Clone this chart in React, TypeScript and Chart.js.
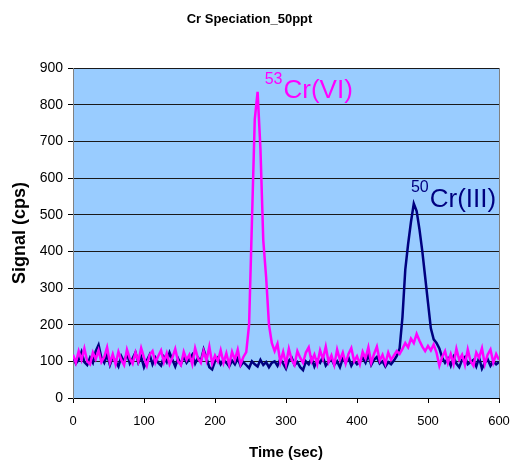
import React, { useEffect, useRef } from "react";
import { Chart, registerables } from "chart.js";

Chart.register(...registerables);

const TITLE = "Cr Speciation_50ppt";
const X_TITLE = "Time (sec)";
const Y_TITLE = "Signal (cps)";
const SAMPLE_STEP_SEC = 4;

// 50Cr(III) signal, one value every 4 s from 0 to 600 s
const CR3_VALUES = [
  112, 94, 104, 126, 98, 90, 110, 96, 128, 145, 110,
  96, 118, 90, 112, 100, 86, 114, 98, 122, 94,
  108, 124, 96, 112, 84, 102, 118, 92, 110, 96,
  88, 112, 98, 124, 104, 86, 108, 92, 114, 96,
  106, 118, 94, 110, 100, 132, 108, 84, 78, 100,
  110, 92, 104, 96, 86, 102, 92, 108, 88, 98,
  90, 82, 100, 92, 86, 104, 90, 98, 84, 96,
  100, 88, 106, 94, 80, 102, 110, 90, 98, 84,
  76, 100, 92, 108, 86, 104, 96, 112, 88, 98,
  106, 90, 100, 84, 108, 96, 110, 88, 102, 92,
  98, 110, 96, 118, 90, 104, 112, 94, 100, 86,
  98, 92, 102, 115, 135, 220, 350, 420, 480, 530,
  510, 460, 400, 330, 260, 190, 160, 150, 135, 110,
  96, 108, 88, 112, 94, 84, 104, 112, 92, 98,
  104, 86, 110, 80, 96, 106, 88, 100, 92, 98,
];

// 53Cr(VI) signal, one value every 4 s from 0 to 600 s
const CR6_VALUES = [
  118, 96, 128, 104, 135, 100, 92, 124, 106, 130, 98,
  112, 138, 96, 120, 92, 126, 104, 90, 132, 108,
  94, 124, 100, 136, 110, 88, 118, 128, 96, 114,
  130, 98, 122, 92, 110, 134, 100, 90, 126, 104,
  118, 92, 136, 108, 96, 128, 102, 140, 94, 116,
  100, 130, 96, 122, 90, 126, 104, 132, 92, 112,
  125, 200, 480, 760, 835, 680, 430, 330, 200, 150,
  128, 148, 98, 126, 92, 134, 104, 90, 128, 110,
  96, 124, 138, 100, 118, 92, 130, 106, 140, 98,
  116, 90, 132, 104, 124, 94, 120, 136, 100, 114,
  92, 126, 108, 138, 96, 120, 140, 102, 118, 94,
  124, 104, 116, 128, 120, 134, 150, 138, 162, 150,
  175, 156, 140, 128, 142, 130, 146, 124, 88, 112,
  128, 96, 120, 92, 134, 104, 118, 90, 132, 100,
  88, 124, 110, 136, 92, 118, 132, 96, 120, 104,
];

const TIMES = CR3_VALUES.map((_, i) => i * SAMPLE_STEP_SEC);

const X_TICKS = [0, 100, 200, 300, 400, 500, 600];
const Y_TICKS = [0, 100, 200, 300, 400, 500, 600, 700, 800, 900];

const PINK = "#FF00FF";
const NAVY = "#000080";

const PEAK_LABELS = [
  { sup: "53", text: "Cr(VI)", x: 270, supY: 857, textY: 818, color: PINK },
  { sup: "50", text: "Cr(III)", x: 476, supY: 562, textY: 521, color: NAVY },
];

const peakLabelPlugin = {
  id: "peakLabels",
  beforeDraw(chart: any) {
    const { ctx, chartArea } = chart;
    ctx.save();
    ctx.fillStyle = "#99CCFF";
    ctx.fillRect(chartArea.left, chartArea.top, chartArea.right - chartArea.left, chartArea.bottom - chartArea.top);
    ctx.restore();
  },
  afterDraw(chart: any) {
    const { ctx, chartArea, scales } = chart;
    ctx.save();
    ctx.strokeStyle = "#808080";
    ctx.lineWidth = 1;
    ctx.beginPath();
    ctx.moveTo(chartArea.right + 0.5, chartArea.top);
    ctx.lineTo(chartArea.right + 0.5, chartArea.bottom);
    ctx.stroke();
    ctx.textBaseline = "alphabetic";
    ctx.textAlign = "left";
    for (const l of PEAK_LABELS) {
      const px = scales.x.getPixelForValue(l.x);
      ctx.fillStyle = l.color;
      ctx.font = "16px Arial, 'Liberation Sans', sans-serif";
      ctx.fillText(l.sup, px, scales.y.getPixelForValue(l.supY));
      const w = ctx.measureText(l.sup).width;
      ctx.font = "26px Arial, 'Liberation Sans', sans-serif";
      ctx.fillText(l.text, px + w + 1, scales.y.getPixelForValue(l.textY));
    }
    ctx.restore();
  },
};

export default function App() {
  const ref = useRef<HTMLCanvasElement | null>(null);
  useEffect(() => {
    if (!ref.current) return;
    const chart = new Chart(ref.current, {
      type: "line",
      data: {
        datasets: [
          {
            label: "53Cr(VI)",
            data: TIMES.map((t, i) => ({ x: t, y: CR6_VALUES[i] })),
            borderColor: PINK,
            borderWidth: 2.5,
            pointRadius: 0,
            tension: 0,
            order: 0,
          },
          {
            label: "50Cr(III)",
            data: TIMES.map((t, i) => ({ x: t, y: CR3_VALUES[i] })),
            borderColor: NAVY,
            borderWidth: 2.5,
            pointRadius: 0,
            tension: 0,
            order: 1,
          },
        ],
      },
      options: {
        animation: false,
        responsive: false,
        devicePixelRatio: 1,
        layout: { padding: { left: 0, right: 15, top: 0, bottom: 0 } },
        plugins: {
          legend: { display: false },
          tooltip: { enabled: false },
          title: {
            display: true,
            text: TITLE,
            color: "#000",
            font: { family: "Arial, 'Liberation Sans', sans-serif", size: 13, weight: "bold", lineHeight: 1.2 },
            padding: { top: 12, bottom: 40.4 },
          },
        },
        scales: {
          x: {
            type: "linear",
            min: 0,
            max: 600,
            afterBuildTicks: (s: any) => {
              s.ticks = X_TICKS.map((v) => ({ value: v }));
            },
            afterFit: (s: any) => {
              s.height = 65;
              s.paddingLeft = 0;
              s.paddingRight = 0;
            },
            ticks: {
              color: "#000",
              font: { family: "Arial, 'Liberation Sans', sans-serif", size: 13 },
              padding: 11,
              maxRotation: 0,
            },
            grid: { drawOnChartArea: false, drawTicks: true, tickLength: 5, tickColor: "#000" },
            border: { display: true, color: "#000", width: 1 },
            title: {
              display: true,
              text: X_TITLE,
              color: "#000",
              font: { family: "Arial, 'Liberation Sans', sans-serif", size: 15, weight: "bold", lineHeight: 1 },
              padding: { top: 0, bottom: 2.5 },
            },
          },
          y: {
            type: "linear",
            min: 0,
            max: 900,
            afterBuildTicks: (s: any) => {
              s.ticks = Y_TICKS.map((v) => ({ value: v }));
            },
            afterFit: (s: any) => {
              s.width = 73;
            },
            ticks: {
              color: "#000",
              font: { family: "Arial, 'Liberation Sans', sans-serif", size: 14 },
              padding: 5,
            },
            grid: { color: "#1a1a1a", lineWidth: 1, drawTicks: true, tickLength: 5, tickColor: "#000" },
            border: { display: true, color: "#808080", width: 1 },
            title: {
              display: true,
              text: Y_TITLE,
              color: "#000",
              font: { family: "Arial, 'Liberation Sans', sans-serif", size: 18, weight: "bold", lineHeight: 1 },
              padding: { top: 11, bottom: 0 },
            },
          },
        },
      },
      plugins: [peakLabelPlugin],
    } as any);
    return () => chart.destroy();
  }, []);
  return (
    <div style={{ position: "absolute", left: 0, top: 0, width: 514, height: 463, background: "#fff" }}>
      <canvas ref={ref} width={514} height={463} style={{ width: 514, height: 463, display: "block" }} />
    </div>
  );
}
